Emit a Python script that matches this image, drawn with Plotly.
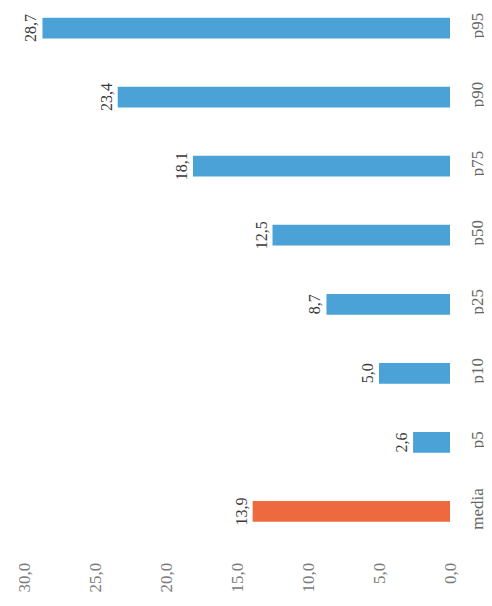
import plotly.graph_objects as go

categories = ["media", "p5", "p10", "p25", "p50", "p75", "p90", "p95"]
values = [13.9, 2.6, 5.0, 8.7, 12.5, 18.1, 23.4, 28.7]
colors = ["#EE6A3E", "#4AA2D6", "#4AA2D6", "#4AA2D6", "#4AA2D6", "#4AA2D6", "#4AA2D6", "#4AA2D6"]
tick_vals = [0, 5, 10, 15, 20, 25, 30]
tick_text = ["0,0", "5,0", "10,0", "15,0", "20,0", "25,0", "30,0"]

fig = go.Figure(go.Bar(
    y=categories, x=values, orientation="h",
    marker=dict(color=colors, line=dict(width=0)),
    width=0.3,
    text=[f"{v:.1f}".replace(".", ",") for v in values],
    textposition="outside", textangle=-90,
    textfont=dict(family="Liberation Serif", size=16, color="#3a3a3a"),
    cliponaxis=False,
))

# page body has an 8px margin, so the figure is sized to fit the window
fig.update_layout(
    width=484, height=598,
    margin=dict(l=16, r=42, t=0, b=60),
    paper_bgcolor="white", plot_bgcolor="white",
    showlegend=False,
    font=dict(family="Liberation Serif"),
)
fig.update_xaxes(
    range=[30, 0], tickvals=tick_vals, ticktext=tick_text, tickangle=-90,
    showgrid=False, zeroline=False, showline=False,
    ticks="outside", ticklen=9, tickcolor="rgba(0,0,0,0)",
    tickfont=dict(family="Liberation Serif", size=17, color="#7a7a7a"),
)
fig.update_yaxes(
    range=[-0.5, 7.29], side="right", tickangle=-90,
    categoryorder="array", categoryarray=categories,
    showgrid=False, zeroline=False, showline=False,
    ticks="outside", ticklen=12, tickcolor="rgba(0,0,0,0)",
    tickfont=dict(family="Liberation Serif", size=17, color="#666666"),
)

fig.write_html("out.html")
